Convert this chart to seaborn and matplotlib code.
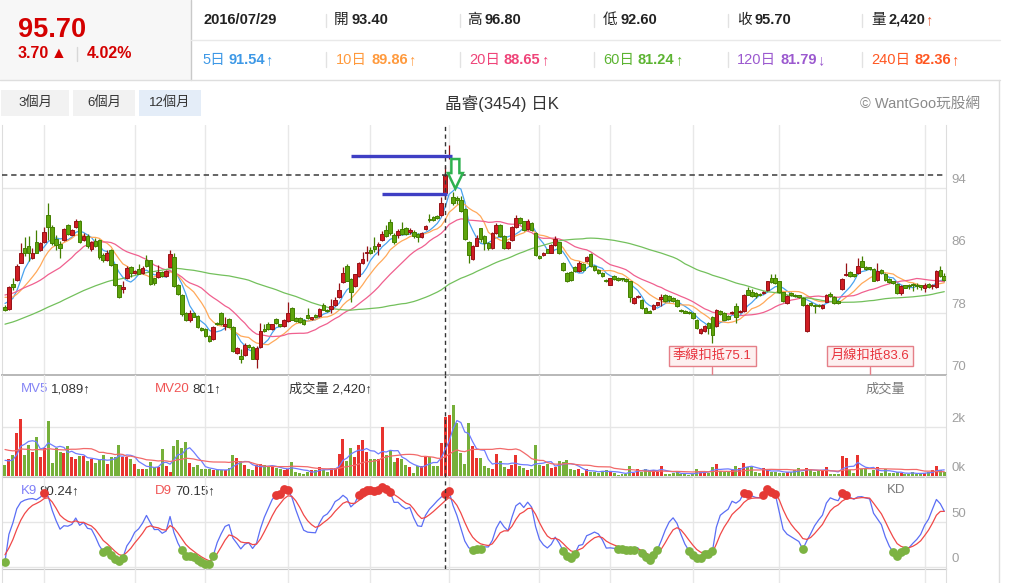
import numpy as np
import pandas as pd
import seaborn as sns
import matplotlib
matplotlib.use("Agg")
import matplotlib.pyplot as plt
import matplotlib.transforms as mtransforms
from matplotlib.patches import Rectangle, Polygon

# daily candles, oldest first
opens = [
    78.7, 78.5, 81.7, 82.2, 84.4, 86.3, 86.5, 85.0, 87.0, 86.0,
    87.0, 90.5, 89.0, 87.5, 86.8, 87.3, 89.2, 88.0, 89.0, 89.8,
    87.3, 87.8, 86.1, 87.2, 87.3, 85.4, 84.8, 86.0, 84.2, 81.5,
    81.0, 82.4, 83.9, 83.1, 83.6, 83.1, 84.8, 84.7, 82.4, 82.6,
    83.2, 82.7, 83.9, 85.1, 81.6, 80.3, 78.0, 77.0, 78.0, 77.6,
    76.0, 75.9, 75.0, 74.6, 76.7, 78.0, 76.3, 77.2, 76.2, 72.8,
    72.5, 72.6, 73.9, 73.6, 72.1, 73.6, 75.9, 76.6, 75.9, 77.2,
    76.5, 76.3, 76.9, 78.6, 77.3, 77.3, 77.1, 77.7, 77.2, 77.7,
    77.6, 79.0, 78.4, 78.5, 79.0, 80.0, 81.9, 84.0, 82.3, 81.4,
    82.7, 84.4, 85.6, 86.0, 86.6, 86.5, 87.3, 88.6, 89.6, 88.0,
    87.9, 88.7, 88.8, 88.3, 88.4, 88.1, 87.7, 88.7, 90.0, 90.3,
    90.4, 90.5, 93.4, 97.9, 92.8, 92.7, 92.5, 91.3, 87.1, 84.9,
    86.6, 88.8, 87.8, 86.9, 86.3, 88.2, 89.3, 87.8, 86.3, 87.3,
    89.0, 90.2, 89.7, 88.7, 89.5, 88.2, 85.3, 85.4, 86.1, 85.7,
    86.7, 87.0, 84.4, 83.1, 83.2, 83.9, 83.3, 84.3, 84.6, 85.5,
    84.0, 83.5, 83.1, 82.2, 81.6, 82.7, 82.4, 82.4, 82.3, 82.0,
    79.2, 80.0, 79.6, 78.6, 78.2, 78.5, 79.0, 79.8, 80.3, 80.1,
    79.9, 79.6, 78.4, 78.2, 78.1, 78.0, 77.1, 75.4, 75.6, 76.7,
    77.5, 76.3, 78.2, 78.0, 77.6, 77.9, 78.8, 78.1, 78.2, 80.9,
    80.7, 80.5, 80.3, 80.5, 80.9, 82.4, 82.4, 82.0, 80.6, 79.2,
    80.5, 80.3, 80.2, 79.9, 75.6, 79.2, 79.0, 79.0, 78.6, 79.4,
    80.4, 80.0, 79.5, 81.0, 82.8, 83.2, 82.9, 83.1, 84.6, 83.9,
    83.8, 83.6, 82.2, 83.5, 83.0, 82.3, 82.0, 81.7, 80.5, 81.5,
    81.6, 81.7, 81.6, 81.5, 81.2, 81.7, 81.4, 81.3, 83.5, 82.7,
]
highs = [
    79.0, 81.4, 82.4, 84.2, 86.9, 87.7, 87.8, 86.3, 88.6, 87.1,
    89.0, 92.0, 89.3, 88.0, 87.2, 88.9, 89.4, 88.7, 90.0, 89.9,
    88.2, 88.1, 87.2, 87.6, 87.5, 85.6, 86.0, 86.1, 84.3, 81.6,
    82.1, 84.0, 84.0, 83.5, 84.2, 84.0, 85.4, 84.8, 82.5, 84.1,
    83.4, 83.5, 86.0, 85.6, 81.7, 80.4, 78.1, 78.3, 78.1, 77.7,
    76.1, 76.0, 75.1, 76.3, 76.8, 78.1, 77.5, 77.3, 76.3, 73.6,
    73.3, 74.1, 74.0, 73.7, 73.7, 76.7, 76.5, 76.8, 76.6, 77.3,
    76.6, 77.2, 79.4, 78.7, 77.4, 77.4, 77.2, 78.6, 77.5, 77.8,
    78.6, 79.2, 78.5, 79.7, 80.0, 81.8, 83.9, 84.2, 82.5, 83.0,
    84.5, 85.8, 86.5, 86.4, 87.7, 87.0, 88.5, 89.2, 90.0, 88.2,
    88.7, 89.6, 89.0, 88.8, 88.6, 88.2, 88.3, 89.3, 90.7, 90.4,
    90.5, 92.8, 96.8, 99.5, 93.5, 93.0, 93.0, 91.4, 87.2, 86.7,
    88.0, 88.9, 87.9, 87.0, 88.3, 89.5, 89.4, 87.9, 87.2, 89.1,
    90.5, 90.3, 89.8, 90.0, 89.6, 88.3, 85.4, 85.8, 86.2, 86.8,
    87.8, 87.1, 84.5, 83.2, 83.3, 84.0, 84.6, 84.4, 85.3, 85.6,
    84.1, 83.6, 83.2, 82.3, 82.5, 82.8, 82.6, 82.5, 82.4, 82.1,
    80.0, 80.2, 79.7, 78.7, 78.3, 79.1, 79.4, 80.4, 80.4, 80.3,
    80.0, 79.7, 78.5, 78.3, 78.2, 78.1, 77.2, 76.0, 76.4, 76.8,
    77.6, 78.5, 78.3, 78.1, 77.7, 78.2, 79.2, 78.3, 80.4, 81.3,
    81.0, 80.6, 80.5, 80.8, 82.1, 83.0, 82.9, 82.1, 80.7, 80.2,
    80.6, 80.4, 80.3, 80.0, 79.1, 79.3, 79.1, 79.1, 79.1, 80.4,
    80.7, 80.1, 79.6, 82.4, 84.4, 83.4, 83.0, 85.0, 85.2, 84.0,
    83.9, 83.7, 84.4, 83.6, 83.1, 82.4, 82.1, 81.8, 81.5, 81.6,
    81.7, 81.8, 81.8, 81.6, 81.8, 81.8, 81.7, 83.5, 84.0, 83.1,
]
lows = [
    78.2, 78.4, 80.9, 82.1, 84.4, 85.2, 84.6, 84.9, 85.6, 85.9,
    86.9, 87.3, 86.7, 86.0, 85.0, 87.2, 88.0, 87.9, 88.9, 86.9,
    87.2, 86.3, 85.9, 86.4, 84.9, 84.5, 84.6, 84.0, 81.4, 79.9,
    80.5, 82.3, 82.6, 83.0, 82.9, 83.0, 83.9, 81.6, 81.6, 82.4,
    82.6, 82.6, 83.8, 81.3, 80.2, 77.6, 76.9, 76.8, 77.4, 76.0,
    75.7, 74.9, 74.2, 74.5, 76.4, 76.4, 75.8, 76.1, 73.0, 72.7,
    71.6, 72.5, 73.5, 72.0, 70.9, 73.5, 75.5, 75.8, 75.8, 76.6,
    76.2, 76.2, 76.8, 77.0, 76.8, 76.7, 76.4, 77.2, 77.1, 77.3,
    77.5, 78.3, 78.1, 78.0, 78.9, 79.9, 81.8, 82.0, 79.3, 81.3,
    82.6, 84.3, 84.6, 85.5, 85.8, 85.4, 87.2, 87.7, 88.0, 86.8,
    87.6, 88.0, 88.0, 88.1, 87.6, 87.1, 87.6, 88.6, 89.6, 89.8,
    90.0, 90.4, 92.6, 97.7, 91.8, 91.9, 90.9, 87.3, 84.4, 84.8,
    86.5, 87.0, 86.0, 86.0, 86.2, 88.1, 87.7, 86.2, 86.2, 87.2,
    88.9, 89.4, 88.5, 88.6, 88.5, 85.3, 84.9, 85.3, 85.6, 85.6,
    86.6, 85.5, 83.4, 81.9, 82.1, 83.2, 83.2, 83.4, 84.5, 83.9,
    83.4, 83.0, 82.6, 81.9, 81.5, 82.2, 82.1, 82.1, 81.9, 79.3,
    79.1, 79.9, 78.5, 77.9, 77.9, 78.4, 78.9, 78.8, 79.4, 79.4,
    79.4, 78.7, 78.1, 77.9, 77.8, 77.2, 75.9, 75.3, 75.5, 75.3,
    74.1, 76.2, 77.7, 77.0, 77.1, 77.8, 76.7, 78.0, 78.1, 80.2,
    80.0, 79.9, 80.1, 80.4, 80.8, 81.8, 81.7, 80.5, 79.4, 79.1,
    80.1, 80.0, 79.9, 78.9, 75.5, 78.9, 78.0, 78.7, 78.5, 79.3,
    80.0, 79.1, 79.1, 80.9, 82.7, 82.6, 82.6, 83.0, 83.8, 83.5,
    83.5, 82.0, 82.1, 83.0, 82.1, 81.8, 81.7, 80.4, 80.3, 81.1,
    81.0, 80.8, 81.0, 80.9, 80.7, 81.2, 81.0, 81.2, 82.6, 82.1,
]
closes = [
    78.4, 81.3, 81.3, 84.0, 85.7, 85.7, 85.7, 85.6, 85.7, 86.9,
    88.4, 89.0, 86.9, 86.7, 86.3, 88.7, 88.1, 88.6, 89.8, 87.1,
    87.8, 86.5, 87.0, 86.6, 85.1, 84.7, 85.7, 84.1, 81.5, 80.0,
    81.3, 83.7, 83.1, 83.4, 83.0, 83.7, 84.0, 81.7, 81.8, 83.2,
    82.7, 83.3, 85.5, 81.4, 80.4, 77.8, 77.0, 77.9, 77.5, 76.1,
    75.8, 75.0, 74.3, 76.2, 76.5, 76.5, 76.6, 76.2, 73.1, 73.5,
    72.1, 73.9, 73.6, 72.1, 73.4, 75.7, 75.6, 75.9, 76.5, 76.7,
    76.3, 77.1, 78.0, 77.1, 76.9, 76.8, 76.5, 77.3, 77.4, 77.4,
    78.5, 78.4, 78.2, 78.9, 79.6, 80.9, 83.1, 82.1, 80.7, 82.9,
    84.4, 84.9, 85.7, 85.6, 86.1, 86.8, 88.1, 87.8, 88.2, 87.1,
    88.5, 88.1, 88.1, 88.6, 87.8, 87.7, 88.2, 89.1, 89.9, 89.9,
    90.1, 92.0, 95.7, 98.2, 92.0, 92.4, 91.0, 87.4, 85.4, 86.6,
    87.6, 87.4, 86.9, 86.3, 88.2, 89.3, 87.8, 86.3, 87.1, 89.0,
    90.2, 89.5, 88.6, 89.8, 88.6, 85.4, 85.0, 85.6, 85.7, 86.7,
    87.4, 85.6, 83.5, 82.0, 82.2, 83.3, 84.4, 83.5, 85.1, 84.0,
    83.5, 83.1, 82.7, 82.0, 82.4, 82.3, 82.2, 82.3, 82.0, 80.0,
    79.9, 80.1, 78.6, 78.0, 78.0, 79.0, 79.3, 80.0, 79.5, 79.6,
    79.5, 78.8, 78.2, 78.0, 77.9, 77.3, 76.0, 75.9, 76.3, 76.0,
    75.1, 78.4, 77.8, 77.1, 77.2, 78.1, 77.5, 78.2, 80.3, 80.3,
    80.1, 80.1, 80.2, 80.7, 82.0, 81.9, 81.8, 80.6, 79.5, 80.1,
    80.2, 80.1, 80.0, 79.0, 79.0, 79.0, 78.8, 78.8, 79.0, 80.3,
    80.1, 79.2, 79.2, 82.3, 83.0, 82.7, 82.7, 84.0, 83.9, 83.6,
    83.6, 82.1, 83.3, 83.1, 82.2, 81.9, 81.8, 80.5, 81.4, 81.2,
    81.4, 81.5, 81.4, 81.3, 81.5, 81.3, 81.6, 83.4, 82.7, 82.2,
]
volumes = [
    450, 680, 860, 1770, 2310, 860, 1260, 990, 1600, 790,
    1130, 2260, 540, 1130, 990, 920, 1220, 790, 680, 820,
    820, 630, 680, 540, 650, 860, 490, 760, 760, 1260,
    760, 760, 680, 490, 270, 270, 270, 580, 350, 380,
    1090, 410, 180, 1220, 1470, 1130, 1400, 540, 380, 450,
    270, 270, 270, 240, 240, 240, 240, 310, 860, 720,
    630, 450, 270, 240, 450, 490, 450, 380, 350, 310,
    270, 240, 270, 580, 180, 110, 80, 180, 240, 240,
    380, 240, 180, 310, 310, 900, 1500, 630, 1130, 760,
    1260, 1470, 990, 680, 680, 680, 1990, 860, 1030, 580,
    720, 680, 450, 380, 140, 410, 410, 760, 760, 410,
    410, 1360, 2420, 2490, 2900, 2150, 950, 490, 2180, 1220,
    720, 720, 410, 310, 270, 900, 630, 380, 270, 450,
    860, 410, 310, 240, 270, 1260, 450, 410, 490, 310,
    350, 630, 580, 650, 270, 240, 270, 110, 270, 180,
    180, 110, 220, 240, 180, 140, 40, 80, 80, 410,
    140, 270, 180, 270, 240, 240, 180, 410, 80, 80,
    110, 180, 80, 80, 40, 80, 270, 220, 110, 140,
    380, 490, 220, 180, 180, 240, 410, 310, 540, 350,
    380, 180, 110, 310, 240, 180, 180, 140, 110, 180,
    180, 240, 310, 180, 310, 240, 180, 240, 240, 350,
    80, 80, 80, 820, 720, 240, 140, 860, 270, 270,
    110, 240, 350, 110, 270, 110, 110, 180, 110, 80,
    80, 180, 80, 110, 110, 180, 240, 410, 240, 180,
]

# sessions before the visible window, only used for the averages / KD
pre_closes = [
    73.0, 72.6, 73.2, 73.8, 74.1, 73.5, 73.0, 72.8, 73.4, 74.0,
    74.3, 73.9, 73.6, 73.2, 73.0, 73.5, 74.1, 74.4, 73.8, 73.6,
    74.0, 74.5, 75.0, 74.6, 74.2, 74.8, 75.3, 75.9, 75.5, 75.1,
    75.6, 76.2, 76.0, 75.7, 76.3, 76.8, 77.2, 76.9, 77.5, 78.0,
    78.6, 79.3, 79.8, 80.4, 80.9, 81.5, 81.2, 80.8, 81.3, 81.7,
    81.4, 80.9, 80.5, 80.8, 80.2, 79.9, 79.5, 79.2, 78.9,
]
pre_volumes = [1400, 1250, 1600, 900, 1100, 1350, 1500, 1200, 980, 1300,
               1150, 1000, 1450, 1200, 1050, 800, 650, 700, 600]

month_starts = [10, 33, 51, 72, 93, 113, 136, 154, 175, 197, 234]
hover = 112
price_ticks = [70, 78, 86, 94]
# hand-drawn marks on the chart: (from, to, price)
blue_marks = [(88.0, 113.7, 98.1), (95.9, 112.5, 93.2)]
arrow_at, arrow_top, arrow_neck, arrow_tip = 114.6, 97.7, 95.9, 93.9

n = len(closes)
assert len(opens) == len(highs) == len(lows) == len(volumes) == n

sns.set_style("white")
FONT = ["Liberation Sans", "Noto Sans CJK TC", "DejaVu Sans"]
plt.rcParams["font.family"] = FONT

W, H = 1010, 583
fig = plt.figure(figsize=(W / 100, H / 100), dpi=100)
fig.patch.set_facecolor("white")

bg = fig.add_axes([0, 0, 1, 1], zorder=-5)
bg.set_xlim(0, W)
bg.set_ylim(H, 0)
bg.axis("off")
renderer = fig.canvas.get_renderer()


def panel(x0, y0, x1, y1):
    return fig.add_axes([x0 / W, 1 - y1 / H, (x1 - x0) / W, (y1 - y0) / H])


def rich(x, y, parts, size):
    for s, color, weight, gap in parts:
        t = bg.text(x, y, s, color=color, fontsize=size, fontweight=weight,
                    va="center", ha="left")
        x += t.get_window_extent(renderer=renderer).width + gap
    return x


# ---- header ----
RED = "#d40000"
bg.add_patch(Rectangle((0, 0), 191, 80, fc="#f7f7f7", ec="none"))
bg.plot([191, 191], [0, 80], color="#c9c9c9", lw=1)
bg.plot([191, 1000], [40, 40], color="#e9e9e9", lw=1)
bg.plot([0, 1000], [80, 80], color="#dedede", lw=1)
bg.plot([999, 999], [80, 583], color="#dedede", lw=1)

bg.text(18, 30, "95.70", color=RED, fontsize=19.5, fontweight="bold", va="center")
rich(18, 54, [("3.70", RED, "bold", 2), ("▲", RED, "normal", 0)], 11.5)
bg.plot([77, 77], [47, 61], color="#d8d8d8", lw=1)
bg.text(87, 54, "4.02%", color=RED, fontsize=11.5, fontweight="bold", va="center")

bg.text(203, 20, "2016/07/29", color="#222222", fontsize=10.5, fontweight="bold", va="center")
for x, lab, val in [(334, "開", "93.40"), (467, "高", "96.80"),
                    (603, "低", "92.60"), (737, "收", "95.70")]:
    rich(x, 20, [(lab, "#222222", "normal", 3), (val, "#222222", "bold", 0)], 10.5)
rich(871, 20, [("量", "#222222", "normal", 3), ("2,420", "#222222", "bold", 0),
               ("↑", "#e8603c", "normal", 0)], 10.5)

ma_info = [(202, "5日", "91.54", "↑", "#3d98e6"), (336, "10日", "89.86", "↑", "#ff9a3d"),
           (469, "20日", "88.65", "↑", "#ef4479"), (603, "60日", "81.24", "↑", "#5cb432"),
           (737, "120日", "81.79", "↓", "#9b59cf"), (871, "240日", "82.36", "↑", "#ff5722")]
for x, lab, val, arr, col in ma_info:
    rich(x, 60, [(lab, col, "normal", 4), (val, col, "bold", 0), (arr, col, "normal", 0)], 10.5)

for x in [326, 460, 594, 728, 862]:
    bg.plot([x, x], [14, 27], color="#e2e2e2", lw=1)
    bg.plot([x, x], [52, 67], color="#e2e2e2", lw=1)

for x0, x1, lab, fc in [(1, 69, "3個月", "#f2f2f2"), (73, 135, "6個月", "#f2f2f2"),
                        (139, 201, "12個月", "#e4edf8")]:
    bg.add_patch(Rectangle((x0, 90), x1 - x0, 26, fc=fc, ec="none"))
    bg.text((x0 + x1) / 2, 103, lab, ha="center", va="center", fontsize=9.5, color="#333333")

bg.text(502, 103, "晶睿(3454) 日K", ha="center", va="center", fontsize=12, color="#333333")
bg.text(980, 104, "© WantGoo玩股網", ha="right", va="center", fontsize=10.5, color="#8a8a8a")

# ---- panels ----
ax_p = panel(2, 125, 946, 375)
ax_v = panel(2, 375, 946, 477)
ax_k = panel(2, 477, 946, 569)
ax_b = panel(2, 569, 946, 583)

idx = np.arange(n)
for ax in (ax_p, ax_v, ax_k, ax_b):
    ax.set_facecolor("none")
    ax.set_xlim(-0.76, 239.44)
    ax.set_xticks([])
    ax.tick_params(left=False, labelleft=False, bottom=False, labelbottom=False)
    for m in month_starts:
        ax.axvline(m, color="#e8e8e8", lw=1, zorder=0)
    ax.spines["top"].set_visible(False)
    ax.spines["left"].set_color("#dddddd")
    ax.spines["right"].set_color("#dddddd")
    ax.spines["bottom"].set_color("#c6c6c6")
ax_b.spines["bottom"].set_visible(False)
ax_p.spines["bottom"].set_color("#b8b8b8")
ax_p.spines["bottom"].set_linewidth(1.4)

o, h, l, c = map(np.array, (opens, highs, lows, closes))
up = c >= o
body_col = np.where(up, "#cf1d23", "#5ea40c")
edge_col = np.where(up, "#961216", "#437f00")

# price
ax_p.set_ylim(70, 94 + 63 / 7.8125)
ax_p.set_yticks(price_ticks)
ax_p.yaxis.grid(True, color="#e6e6e6", lw=1)
ax_p.set_axisbelow(True)

full_c = pd.Series(pre_closes + closes)
ma_colors = {5: "#4aa3ef", 10: "#ffa95a", 20: "#f0608f", 60: "#73c05c"}
for w, col in ma_colors.items():
    ma = full_c.rolling(w).mean().iloc[len(pre_closes):].to_numpy()
    sns.lineplot(x=idx, y=ma, ax=ax_p, color=col, lw=0.9, legend=False, zorder=2)

ax_p.vlines(idx, l, h, colors=edge_col, lw=0.9, zorder=3)
ax_p.bar(idx, np.maximum(np.abs(c - o), 0.14), bottom=np.minimum(o, c), width=0.92,
         color=body_col, edgecolor=edge_col, linewidth=0.7, zorder=4)

ax_p.axhline(closes[hover], color="#3a3a3a", lw=1.1, ls=(0, (3.5, 2.5)), zorder=5)
for x0, x1, p in blue_marks:
    ax_p.plot([x0, x1], [p, p], color="#3f3fc4", lw=2.4, solid_capstyle="butt", zorder=7)
sw, hw = 1.02, 1.9
ax_p.add_patch(Polygon([(arrow_at - sw, arrow_top), (arrow_at + sw, arrow_top),
                        (arrow_at + sw, arrow_neck), (arrow_at + hw, arrow_neck),
                        (arrow_at, arrow_tip), (arrow_at - hw, arrow_neck),
                        (arrow_at - sw, arrow_neck)],
                       closed=True, fc="white", ec="#2eb14f", lw=1.8, zorder=8))

blend = mtransforms.blended_transform_factory(ax_p.transData, ax_p.transAxes)
for i, name in [(n - 60, "季線扣抵"), (n - 20, "月線扣抵")]:
    ax_p.text(i, 0.076, f"{name}{closes[i]:.1f}", transform=blend, ha="center", va="center",
              color="#e8333c", fontsize=9.5, zorder=9,
              bbox=dict(boxstyle="square,pad=0.28", fc="#fdf0f0", ec="#e57f88", lw=1))
    ax_p.plot([i, i], [0, 0.034], transform=blend, color="#e57f88", lw=1, zorder=9)

# volume
ax_v.set_ylim(-41, 4122)
ax_v.set_yticks([0, 2000])
ax_v.yaxis.grid(True, color="#e6e6e6", lw=1)
ax_v.set_axisbelow(True)
vol_col = np.where(up, "#e8332e", "#76b03a")
ax_v.bar(idx, volumes, width=0.76, color=vol_col, lw=0, zorder=3)
full_v = pd.Series(pre_volumes + volumes, dtype=float)
for w, col in [(5, "#6f7dff"), (20, "#f26a6a")]:
    mv = full_v.rolling(w).mean().iloc[len(pre_volumes):].to_numpy()
    sns.lineplot(x=idx, y=mv, ax=ax_v, color=col, lw=0.9, legend=False, zorder=4)

# KD (9 days)
fh = pd.Series(pre_closes + highs)
fl = pd.Series(pre_closes + lows)
hh = fh.rolling(9, min_periods=1).max().to_numpy()
ll = fl.rolling(9, min_periods=1).min().to_numpy()
fc = full_c.to_numpy()
rsv = np.where(hh > ll, (fc - ll) / np.where(hh > ll, hh - ll, 1) * 100, 50)
k_vals, d_vals = [], []
k = d = 50.0
for r in rsv:
    k = k * 2 / 3 + r / 3
    d = d * 2 / 3 + k / 3
    k_vals.append(k)
    d_vals.append(d)
K = np.array(k_vals[len(pre_closes):])
D = np.array(d_vals[len(pre_closes):])

ax_k.set_ylim(-2.2, 100)
ax_k.set_yticks([0, 50])
ax_k.yaxis.grid(True, color="#e6e6e6", lw=1)
ax_k.set_axisbelow(True)
sns.lineplot(x=idx, y=K, ax=ax_k, color="#5b6ef5", lw=0.9, legend=False, zorder=3)
sns.lineplot(x=idx, y=D, ax=ax_k, color="#f04848", lw=0.9, legend=False, zorder=3)
hot, cold = K >= 80, K <= 20
sns.scatterplot(x=idx[hot], y=K[hot], ax=ax_k, color="#e53935", s=40, lw=0, zorder=5, legend=False)
sns.scatterplot(x=idx[cold], y=K[cold], ax=ax_k, color="#7cb342", s=40, lw=0, zorder=5, legend=False)

for ax in (ax_p, ax_v, ax_k):
    ax.axvline(hover, color="#333333", lw=1, ls=(0, (3, 2.5)), zorder=6)


def right_labels(ax, ticks, fmt):
    for v in ticks:
        yd = ax.transData.transform((0, v))[1]
        bg.text(951, H - yd - 8, fmt(v), color="#a0a0a0", fontsize=9.5, va="center")


right_labels(ax_p, price_ticks, str)
right_labels(ax_v, [0, 2000], lambda v: f"{v // 1000}k")
right_labels(ax_k, [0, 50], str)

rich(21, 389, [("MV5", "#8585f5", "normal", 3), ("1,089↑", "#333333", "normal", 0)], 9.5)
rich(155, 389, [("MV20", "#f05555", "normal", 3), ("801↑", "#333333", "normal", 0)], 9.5)
rich(289, 389, [("成交量 2,420↑", "#333333", "normal", 0)], 9.5)
bg.text(905, 390, "成交量", ha="right", va="center", color="#7a7a7a", fontsize=9.5)
rich(21, 491, [("K9", "#8080f8", "normal", 2), ("80.24↑", "#333333", "normal", 0)], 9.5)
rich(155, 491, [("D9", "#f05555", "normal", 3), ("70.15↑", "#333333", "normal", 0)], 9.5)
bg.text(905, 490, "KD", ha="right", va="center", color="#7a7a7a", fontsize=9.5)

fig.savefig("out.png", dpi=100)
